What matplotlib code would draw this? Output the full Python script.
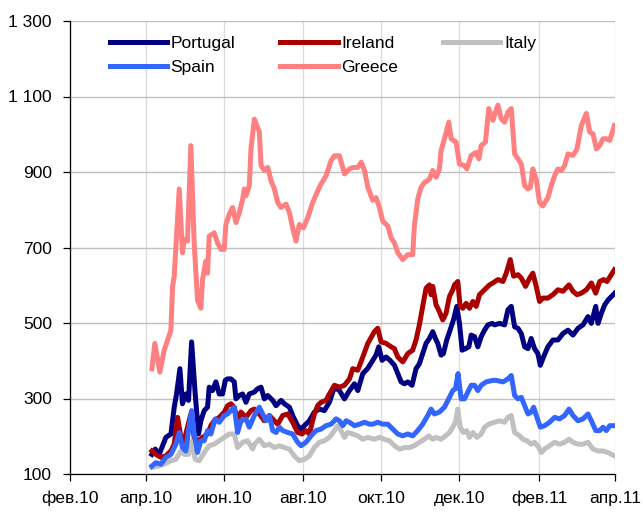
import matplotlib
matplotlib.use('Agg')
import matplotlib.pyplot as plt
import pandas as pd

plt.rcParams['font.family'] = ['Liberation Sans', 'DejaVu Sans']

# days since 1 Feb 2010 and spread values (bp)
greece_day = [63.7, 66.0, 69.9, 73.3, 78.5, 79.8, 81.1, 85.0, 87.5, 88.8, 91.4, 94.0, 96.6, 99.2, 101.8, 103.1,
              105.7, 107.0, 108.3, 112.2, 114.8, 117.4, 120.0, 121.3, 123.9, 126.5, 129.1, 131.7, 134.3, 135.6,
              136.9, 139.5, 140.8, 143.4, 147.3, 148.6, 151.2, 153.8, 156.4, 159.0, 161.6, 164.2, 168.1, 170.7,
              173.2, 175.8, 178.4, 181.6, 184.9, 188.8, 192.7, 195.3, 199.2, 203.1, 205.7, 209.6, 213.5, 217.4,
              220.0, 223.9, 226.5, 229.1, 231.7, 235.5, 238.1, 240.7, 243.3, 247.2, 249.8, 252.4, 255.0, 258.9,
              262.8, 266.6, 267.9, 270.5, 273.1, 275.7, 279.6, 282.2, 284.8, 287.4, 288.7, 291.3, 294.7, 296.5,
              300.4, 303.0, 306.9, 308.7, 312.1, 316.0, 318.1, 319.9, 323.2, 325.8, 329.0, 332.9, 335.5, 338.1,
              340.7, 343.3, 345.9, 348.5, 351.1, 353.7, 356.3, 358.1, 360.1, 362.7, 365.3, 367.9, 371.8, 374.4,
              377.0, 379.6, 382.2, 384.8, 387.4, 391.3, 394.4, 397.8, 401.7, 404.3, 406.9, 409.5, 412.1, 414.7,
              417.3, 419.9, 423.5]
greece_val = [379, 446, 370, 428, 481, 597, 624, 855, 686, 721, 717, 970, 712, 561, 539, 615,
              664, 632, 730, 739, 712, 695, 695, 761, 788, 806, 766, 792, 828, 855,
              837, 864, 961, 1040, 1006, 917, 904, 912, 877, 855, 819, 806, 815, 792,
              752, 717, 761, 752, 779, 819, 850, 868, 890, 930, 943, 943, 895, 908,
              912, 912, 926, 904, 860, 825, 832, 806, 770, 757, 726, 712, 686, 668,
              681, 681, 757, 828, 859, 872, 881, 904, 886, 908, 957, 988, 1032, 988,
              979, 921, 917, 908, 944, 952, 935, 970, 979, 1068, 1037, 1077, 1041, 1032,
              1059, 1068, 948, 935, 921, 864, 855, 859, 908, 881, 819, 810, 832, 864,
              890, 908, 904, 917, 948, 944, 961, 1023, 1055, 1006, 1001, 961, 970, 988,
              988, 984, 1023]

portugal_day = [63.7, 66.3, 69.4, 72.5, 74.6, 78.5, 81.1, 82.9, 85.5, 87.5, 90.1, 92.2, 94.6, 97.4, 100.0,
                101.8, 104.4, 107.0, 108.3, 110.9, 113.5, 116.1, 118.7, 120.8, 122.6, 125.2, 127.8, 129.1,
                131.7, 134.3, 136.9, 139.5, 143.4, 146.0, 148.6, 151.2, 153.8, 157.7, 160.3, 164.2, 166.8,
                170.7, 173.2, 177.1, 179.7, 182.3, 186.2, 190.1, 194.0, 197.9, 201.8, 205.7, 209.6, 213.5,
                217.4, 221.3, 223.9, 227.8, 231.7, 235.5, 238.1, 240.2, 242.8, 245.9, 249.0, 252.4, 255.0,
                257.6, 260.2, 262.8, 266.1, 269.2, 271.8, 274.4, 277.0, 279.6, 282.2, 284.3, 286.1, 288.7,
                290.5, 293.1, 295.7, 298.3, 300.9, 303.0, 305.1, 307.7, 310.3, 312.1, 314.7, 317.3, 319.9,
                322.5, 325.1, 328.5, 330.3, 334.2, 338.1, 340.7, 343.3, 345.9, 348.5, 351.1, 353.7, 356.3,
                358.8, 361.4, 364.0, 365.9, 367.9, 371.8, 375.7, 379.6, 383.5, 387.4, 391.3, 395.2, 399.1,
                403.0, 405.6, 409.0, 410.8, 413.4, 416.0, 418.6, 421.2, 423.8]
portugal_val = [152, 166, 152, 179, 197, 206, 277, 312, 379, 286, 312, 295, 450, 312, 206,
                241, 268, 277, 330, 321, 344, 312, 312, 348, 352, 352, 344, 299,
                308, 312, 290, 312, 317, 326, 330, 299, 308, 295, 281, 295, 286,
                277, 255, 228, 219, 228, 241, 264, 272, 268, 290, 330, 321, 299,
                321, 339, 321, 366, 380, 401, 415, 437, 401, 410, 401, 388, 366,
                344, 339, 344, 335, 379, 392, 419, 446, 459, 477, 459, 446, 415,
                419, 455, 481, 508, 544, 499, 428, 432, 437, 468, 464, 437, 464,
                481, 495, 499, 495, 499, 495, 535, 544, 490, 486, 472, 437, 432,
                459, 432, 419, 388, 406, 437, 455, 455, 472, 481, 468, 486, 495,
                517, 499, 544, 499, 526, 548, 561, 570, 579]

ireland_day = [63.7, 66.8, 70.7, 74.6, 78.5, 81.1, 83.7, 86.3, 88.8, 91.4, 94.0, 96.6, 100.0, 103.1, 107.0,
               109.6, 112.2, 116.1, 120.0, 122.6, 125.2, 127.8, 130.4, 133.0, 136.9, 140.8, 143.4, 147.3,
               151.2, 155.1, 159.0, 161.6, 165.5, 169.4, 173.2, 177.1, 180.5, 183.6, 186.2, 190.1, 192.7,
               195.3, 199.2, 201.8, 205.7, 209.6, 213.5, 217.4, 220.0, 223.9, 227.8, 231.7, 236.8, 239.4,
               242.0, 245.9, 249.8, 252.4, 255.0, 258.9, 262.8, 266.6, 269.2, 271.8, 274.4, 277.0, 279.6,
               280.9, 282.2, 284.8, 287.4, 290.0, 292.6, 295.2, 297.8, 299.1, 301.7, 303.5, 305.6, 308.2,
               310.8, 313.4, 316.0, 318.6, 322.5, 326.4, 329.0, 332.9, 336.8, 339.4, 342.5, 345.1, 348.5,
               351.1, 354.4, 357.6, 360.1, 362.7, 365.3, 367.9, 371.8, 375.7, 379.6, 383.5, 388.2, 391.3,
               394.4, 397.8, 401.7, 405.6, 409.0, 412.1, 415.2, 417.8, 420.4, 423.5]
ireland_val = [161, 152, 144, 148, 161, 179, 250, 197, 188, 224, 259, 197, 188, 197, 206,
               228, 241, 250, 264, 281, 286, 277, 241, 264, 250, 268, 272, 259,
               241, 255, 241, 232, 255, 259, 237, 210, 206, 215, 206, 259, 281,
               290, 295, 312, 335, 330, 335, 352, 379, 375, 410, 446, 477, 486,
               450, 446, 437, 432, 410, 397, 419, 428, 455, 495, 544, 592, 601,
               575, 597, 548, 530, 508, 526, 570, 588, 601, 610, 544, 539, 552,
               539, 557, 544, 575, 588, 601, 606, 615, 610, 632, 668, 624, 628,
               619, 597, 619, 632, 597, 557, 566, 566, 575, 588, 584, 601, 584,
               575, 579, 588, 606, 579, 610, 615, 610, 624, 641]

spain_day = [63.7, 66.8, 70.7, 74.6, 78.5, 82.4, 85.0, 87.5, 90.1, 92.2, 94.6, 96.6, 99.2, 101.8, 104.4,
             107.0, 109.6, 113.0, 116.1, 120.0, 122.6, 125.2, 127.8, 130.4, 133.0, 136.9, 139.5, 143.4,
             147.3, 149.9, 152.5, 155.1, 157.7, 160.3, 162.9, 165.5, 169.4, 173.2, 177.1, 179.7, 183.6,
             187.5, 191.4, 195.3, 199.2, 203.1, 207.0, 209.6, 212.2, 214.8, 217.4, 221.3, 225.2, 229.1,
             233.0, 235.5, 239.4, 243.3, 247.2, 251.1, 255.0, 258.9, 262.8, 266.6, 270.5, 274.4, 278.3,
             280.9, 283.5, 287.4, 291.3, 295.2, 297.8, 299.9, 301.9, 304.3, 306.9, 309.5, 312.1, 314.7,
             317.3, 319.9, 323.8, 328.9, 331.6, 336.8, 340.7, 343.3, 345.9, 348.5, 351.1, 353.7, 356.3,
             358.8, 360.7, 363.3, 365.9, 369.2, 373.1, 377.0, 380.9, 384.8, 388.2, 391.3, 395.2, 399.1,
             403.0, 405.6, 409.0, 412.1, 414.7, 417.3, 419.9, 423.5]
spain_val = [121, 130, 126, 144, 152, 179, 210, 170, 161, 215, 268, 206, 157, 188, 188,
             215, 206, 246, 237, 255, 259, 268, 277, 210, 241, 246, 224, 255,
             277, 259, 241, 255, 215, 210, 224, 215, 210, 206, 184, 175, 184,
             201, 215, 219, 228, 232, 246, 241, 228, 241, 237, 228, 232, 237,
             232, 232, 237, 232, 232, 219, 206, 201, 206, 201, 215, 232, 255,
             272, 259, 264, 277, 303, 321, 326, 366, 299, 299, 317, 335, 335,
             321, 335, 344, 348, 348, 344, 352, 361, 308, 299, 303, 281, 259,
             264, 277, 250, 224, 228, 237, 250, 246, 255, 272, 255, 241, 246,
             259, 241, 215, 215, 224, 215, 228, 228]

italy_day = [63.7, 68.1, 73.3, 78.5, 82.4, 86.3, 88.8, 92.2, 94.6, 97.4, 100.5, 104.4, 108.3, 112.2, 116.1,
             120.0, 123.9, 127.8, 130.4, 134.3, 138.2, 142.1, 143.4, 147.3, 151.2, 155.1, 159.0, 162.9,
             166.8, 170.7, 174.5, 178.4, 182.3, 186.2, 190.1, 194.0, 197.9, 201.8, 205.7, 208.3, 210.9,
             213.5, 216.1, 220.0, 223.9, 227.8, 231.7, 236.8, 240.7, 244.6, 248.5, 252.4, 256.3, 260.2,
             264.1, 267.9, 271.8, 275.7, 279.1, 282.2, 284.8, 288.7, 292.1, 295.2, 297.8, 299.9, 301.7,
             303.5, 306.1, 308.7, 310.8, 313.4, 316.5, 319.9, 322.5, 325.8, 330.3, 334.2, 338.1, 340.7,
             343.3, 345.9, 349.8, 352.4, 355.5, 358.8, 361.4, 364.8, 366.6, 369.2, 373.1, 377.0, 380.9,
             384.8, 388.2, 391.3, 395.2, 399.1, 403.0, 406.9, 410.8, 414.7, 418.6, 423.5]
italy_val = [117, 121, 126, 135, 139, 161, 152, 152, 188, 139, 135, 157, 175, 179, 188,
             197, 206, 206, 170, 184, 188, 166, 179, 192, 175, 179, 170, 175,
             170, 166, 148, 135, 139, 148, 170, 184, 188, 197, 215, 228, 215,
             197, 210, 206, 201, 192, 197, 192, 197, 192, 188, 175, 166, 170,
             170, 175, 184, 192, 201, 192, 197, 192, 201, 210, 224, 237, 272,
             224, 210, 215, 197, 210, 197, 206, 224, 232, 237, 241, 237, 250,
             255, 210, 201, 192, 188, 179, 184, 170, 157, 166, 175, 184, 179,
             184, 192, 184, 179, 179, 184, 166, 161, 161, 157, 148]

tick_dates = ['2010-02-01', '2010-04-01', '2010-06-01', '2010-08-01',
              '2010-10-01', '2010-12-01', '2011-02-01', '2011-04-01']
tick_labels = ['фев.10', 'апр.10', 'июн.10', 'авг.10', 'окт.10', 'дек.10', 'фев.11', 'апр.11']
y_ticks = [100, 300, 500, 700, 900, 1100, 1300]
y_labels = ['100', '300', '500', '700', '900', '1 100', '1 300']

base = pd.Timestamp('2010-02-01')


def to_dates(days):
    return base + pd.to_timedelta(days, unit='D')


fig = plt.figure(figsize=(6.43, 5.15), dpi=100)
ax = fig.add_axes([70 / 643, 1 - 474 / 515, 545 / 643, 453 / 515])

lw = 3.6
ax.plot(to_dates(portugal_day), portugal_val, color='#000080', lw=lw, label='Portugal', zorder=3)
ax.plot(to_dates(ireland_day), ireland_val, color='#aa0000', lw=lw, label='Ireland', zorder=4)
ax.plot(to_dates(italy_day), italy_val, color='#c0c0c0', lw=lw, label='Italy', zorder=3)
ax.plot(to_dates(spain_day), spain_val, color='#3366ff', lw=lw, label='Spain', zorder=4)
ax.plot(to_dates(greece_day), greece_val, color='#ff8080', lw=lw, label='Greece', zorder=5)

ax.set_xlim(pd.Timestamp(tick_dates[0]), pd.Timestamp(tick_dates[-1]))
ax.set_ylim(100, 1300)
ax.set_xticks(pd.to_datetime(tick_dates))
ax.set_xticklabels(tick_labels)
ax.set_yticks(y_ticks)
ax.set_yticklabels(y_labels)

ax.grid(axis='y', color='#c0c0c0', lw=1)
ax.grid(axis='x', color='#dcdcdc', lw=1)
ax.set_axisbelow(True)
for s in ['top', 'right']:
    ax.spines[s].set_visible(False)
for s in ['left', 'bottom']:
    ax.spines[s].set_linewidth(0.9)
ax.tick_params(axis='both', direction='out', length=5, width=0.9, labelsize=12.5)
ax.tick_params(axis='y', pad=8)
ax.tick_params(axis='x', pad=7)

h, l = ax.get_legend_handles_labels()
order = [0, 3, 1, 4, 2]  # columns: Portugal/Spain, Ireland/Greece, Italy
leg = ax.legend([h[i] for i in order], [l[i] for i in order], ncol=3, frameon=False,
                loc='upper left', bbox_to_anchor=(101 / 643, 1 - 27 / 515),
                bbox_transform=fig.transFigure, fontsize=12.5, handlelength=3.3,
                handletextpad=0.2, columnspacing=2.6, labelspacing=0.5, borderpad=0)

fig.savefig('out.png', dpi=100)
